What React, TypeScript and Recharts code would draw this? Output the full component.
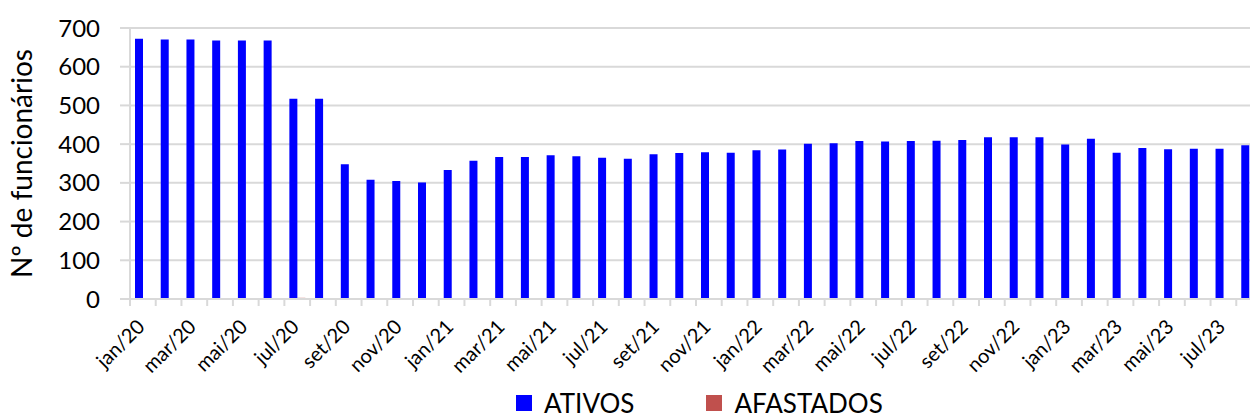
import { BarChart, Bar, XAxis, YAxis, CartesianGrid, Legend } from 'recharts'

const months = [
  'jan/20', 'fev/20', 'mar/20', 'abr/20', 'mai/20', 'jun/20', 'jul/20', 'ago/20', 'set/20', 'out/20', 'nov/20', 'dez/20',
  'jan/21', 'fev/21', 'mar/21', 'abr/21', 'mai/21', 'jun/21', 'jul/21', 'ago/21', 'set/21', 'out/21', 'nov/21', 'dez/21',
  'jan/22', 'fev/22', 'mar/22', 'abr/22', 'mai/22', 'jun/22', 'jul/22', 'ago/22', 'set/22', 'out/22', 'nov/22', 'dez/22',
  'jan/23', 'fev/23', 'mar/23', 'abr/23', 'mai/23', 'jun/23', 'jul/23', 'ago/23',
]

const ativos = [
  672, 670, 670, 668, 668, 668, 517, 517, 348, 308, 305, 301,
  333, 357, 367, 367, 371, 369, 365, 362, 374, 377, 379, 378,
  384, 386, 401, 402, 408, 407, 408, 409, 411, 418, 418, 418,
  399, 414, 378, 390, 387, 388, 388, 397,
]

const afastados = [
  0, 0, 0, 0, 0, 0, 3, 0, 0, 0, 0, 0,
  0, 0, 0, 0, 0, 0, 0, 0, 0, 0, 0, 0,
  0, 0, 0, 0, 0, 0, 0, 0, 0, 0, 0, 0,
  0, 0, 0, 0, 0, 0, 0, 0,
]

const yTicks = [0, 100, 200, 300, 400, 500, 600, 700]

const data = months.map((m, i) => ({ month: m, ativos: ativos[i], afastados: afastados[i] }))

const CHART_W = 1270
const CHART_H = 418
const MARGIN = { top: 28, right: 8, left: 0, bottom: 0 }
const Y_W = 130
const BAND = (CHART_W - MARGIN.left - MARGIN.right - Y_W) / months.length
const FONT = 'Lato, "Open Sans", sans-serif'
const GRID = '#d9d9d9'

function MonthTick(props: any) {
  const { x, y, payload, index } = props
  const left = x - BAND / 2
  return (
    <g>
      <line x1={left} y1={y} x2={left} y2={y + 7} stroke={GRID} strokeWidth={2} />
      {index === months.length - 1 && (
        <line x1={x + BAND / 2} y1={y} x2={x + BAND / 2} y2={y + 7} stroke={GRID} strokeWidth={2} />
      )}
      {index % 2 === 0 && (
        <text
          x={0}
          y={0}
          transform={`translate(${x + 3},${y + 29}) rotate(-45)`}
          textAnchor="end"
          fontSize={20}
          fontFamily={FONT}
          fill="#000"
        >
          {payload.value}
        </text>
      )}
    </g>
  )
}

function LegendBox() {
  const item = (color: string, label: string) => (
    <div style={{ display: 'flex', alignItems: 'center' }}>
      <span style={{ width: 16, height: 16, background: color, display: 'inline-block', marginRight: 12 }} />
      <span style={{ fontSize: 26, color: '#000', fontFamily: FONT, lineHeight: '30px' }}>{label}</span>
    </div>
  )
  return (
    <div style={{ display: 'flex', gap: 72, paddingLeft: 516, height: 30, paddingTop: 4 }}>
      {item('#0000FF', 'ATIVOS')}
      {item('#C0504D', 'AFASTADOS')}
    </div>
  )
}

export default function App() {
  return (
    <div style={{ position: 'absolute', left: 0, top: 0, width: 1250, height: 418, overflow: 'hidden', background: '#fff' }}>
      <BarChart width={CHART_W} height={CHART_H} data={data} margin={MARGIN} barGap={0} barSize={8}>
        <CartesianGrid vertical={false} stroke={GRID} strokeWidth={2} />
        <XAxis
          dataKey="month"
          interval={0}
          tickLine={false}
          tickSize={0}
          tickMargin={0}
          axisLine={{ stroke: GRID, strokeWidth: 2 }}
          tick={<MonthTick />}
          height={85}
        />
        <YAxis
          width={Y_W}
          domain={[0, 700]}
          ticks={yTicks}
          interval={0}
          tickSize={10}
          tickMargin={20}
          tickLine={{ stroke: GRID, strokeWidth: 2 }}
          axisLine={{ stroke: GRID, strokeWidth: 2 }}
          tick={{ fontSize: 24, fill: '#000', fontFamily: FONT }}
          label={{
            value: 'Nº de funcionários',
            angle: -90,
            position: 'insideLeft',
            offset: 22,
            style: { textAnchor: 'middle', fontSize: 28, fill: '#000', fontFamily: FONT },
          }}
        />
        <Legend
          verticalAlign="bottom"
          content={<LegendBox />}
          wrapperStyle={{ left: 0, width: 1250, height: 34 }}
        />
        <Bar dataKey="ativos" name="ATIVOS" fill="#0000FF" isAnimationActive={false} />
        <Bar dataKey="afastados" name="AFASTADOS" fill="#C0504D" isAnimationActive={false} />
      </BarChart>
    </div>
  )
}
